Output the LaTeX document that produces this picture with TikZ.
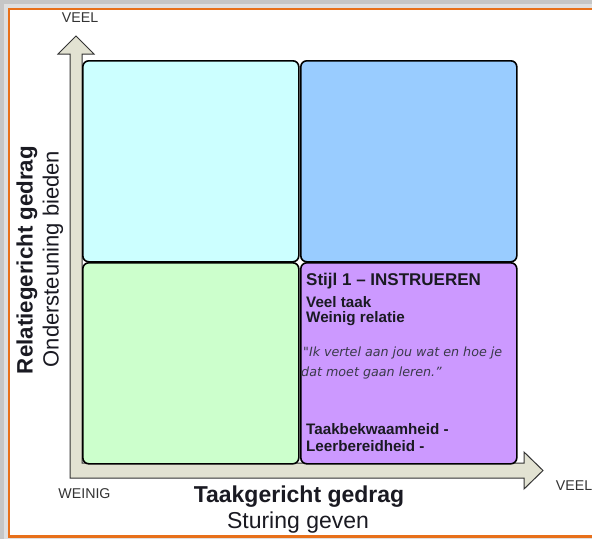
\documentclass[tikz,border=0pt]{standalone}
\usepackage{fontspec}
\setmainfont{Liberation Sans}
\newfontfamily\quotefont{DejaVu Sans}
\definecolor{frameorange}{HTML}{E8701A}
\definecolor{qcyan}{HTML}{CCFFFF}
\definecolor{qblue}{HTML}{99CCFF}
\definecolor{qgreen}{HTML}{CCFFCC}
\definecolor{qpurple}{HTML}{CC99FF}
\definecolor{axisfill}{HTML}{E2E2D2}
\definecolor{axisline}{HTML}{333333}
\definecolor{txtdark}{HTML}{1A1A22}
\definecolor{quotecol}{HTML}{3A3A4A}
\begin{document}
\begin{tikzpicture}[x=1pt,y=-1pt,
  quad/.style={draw=black,line width=1.6pt,rounded corners=6pt,minimum width=216pt,minimum height=201pt,inner sep=0pt,anchor=north west},
  lbl/.style={inner sep=0pt,text=txtdark},
  small/.style={inner sep=0pt,text=black!80,font=\fontsize{14.2}{16}\selectfont},
  inlbl/.style={inner sep=0pt,anchor=west,text=txtdark,font=\bfseries\fontsize{15.2}{17}\selectfont},
  qt/.style={inner sep=0pt,anchor=west,text=quotecol,font=\quotefont\itshape\fontsize{12.7}{15}\selectfont}]
\useasboundingbox (0,0) rectangle (592,539);
% shadow and frame
\fill[gray!45] (0,0) rectangle (592,539);
\fill[gray!25] (4,4) rectangle (592,539);
\filldraw[fill=white,draw=frameorange,line width=2.4pt] (9,9) rectangle (600,536.5);
% axes
\filldraw[fill=axisfill,draw=axisline,line width=1pt,line join=miter]
  (70,478) -- (70,54) -- (58,54) -- (76,36) -- (94,54) -- (82,54) -- (82,463)
  -- (524,463) -- (524,452) -- (543,470.5) -- (524,489) -- (524,478) -- cycle;
% quadrants
\node[quad,fill=qcyan]   (q1) at (82,60)  {};
\node[quad,fill=qblue]   (q2) at (300,60) {};
\node[quad,fill=qgreen]  (q3) at (82,262) {};
\node[quad,fill=qpurple] (q4) at (300,262) {};
% axis labels
\node[small] (veeltop) at (80,18) {VEEL};
\node[small] (weinig) at (84.5,494) {WEINIG};
\node[small] (veelright) at (574,486) {VEEL};
\node[lbl,font=\bfseries\fontsize{23}{26}\selectfont] (xt) at (299,497) {Taakgericht gedrag};
\node[lbl,font=\fontsize{23}{26}\selectfont] (xs) at (298,523) {Sturing geven};
\node[lbl,rotate=90,font=\bfseries\fontsize{22.3}{26}\selectfont] (yt) at (27,260) {Relatiegericht gedrag};
\node[lbl,rotate=90,font=\fontsize{22}{26}\selectfont] (ys) at (53,259) {Ondersteuning bieden};
% purple quadrant text
\node[inlbl,font=\bfseries\fontsize{17}{20}\selectfont] (st) at (306,281) {Stijl 1 – INSTRUEREN};
\node[inlbl] (vt) at (306,302) {Veel taak};
\node[inlbl] (wr) at (306,319) {Weinig relatie};
\node[qt] (q1l) at (303,353) {"Ik vertel aan jou wat en hoe je};
\node[qt] (q2l) at (301,373) {dat moet gaan leren.”};
\node[inlbl] (tb) at (306,429) {Taakbekwaamheid -};
\node[inlbl] (lb) at (306,446) {Leerbereidheid -};
\end{tikzpicture}
\end{document}
